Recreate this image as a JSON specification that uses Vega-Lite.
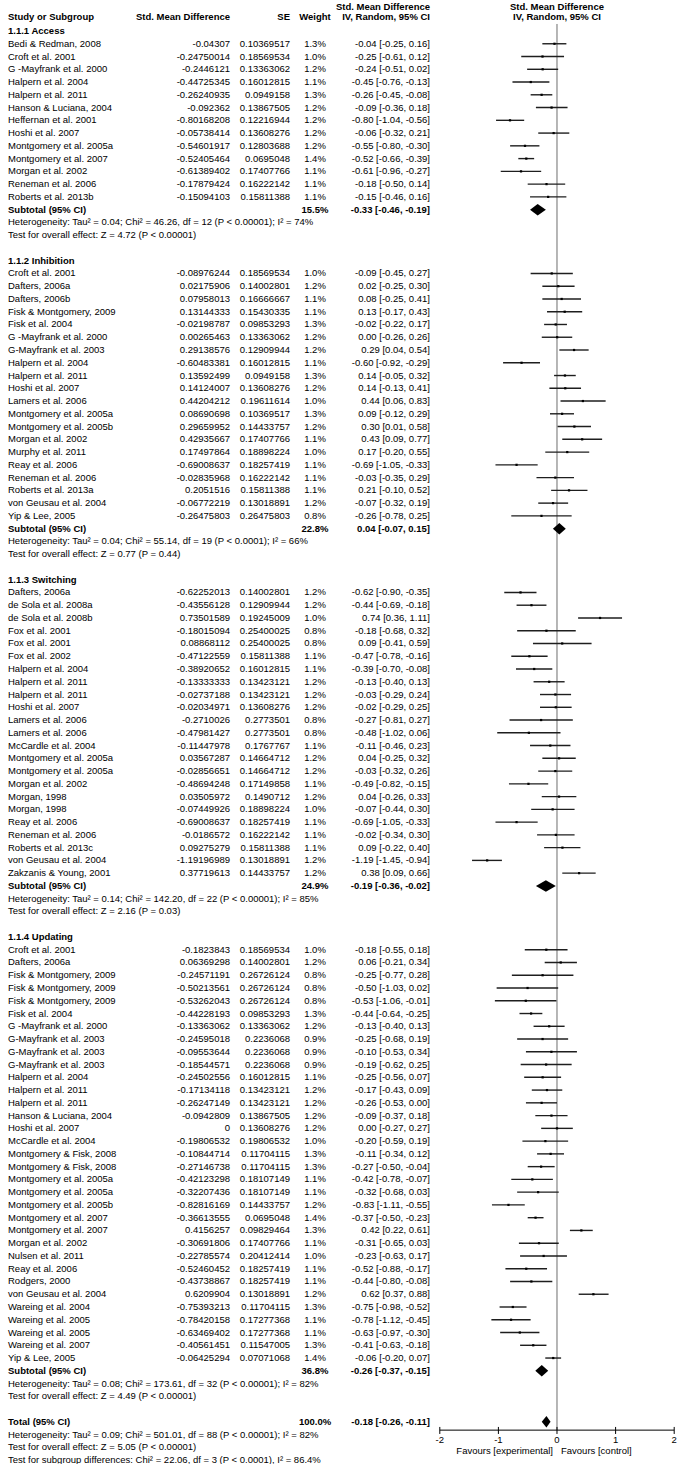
{
  "$schema": "https://vega.github.io/schema/vega-lite/v6.json",
  "padding": {"left": 8, "top": 0, "right": 0, "bottom": 0},
  "background": "white",
  "bounds": "flush",
  "spacing": 0,
  "config": {
    "view": {"stroke": null},
    "text": {"font": "Liberation Sans, Arial, sans-serif", "fontSize": 9.5, "color": "#000"}
  },
  "resolve": {"scale": {"x": "independent", "y": "shared"}},
  "datasets": {
    "rows": [
      {"row":0,"kind":"group","label":"1.1.1 Access"},
      {"row":1,"kind":"study","label":"Bedi & Redman, 2008","smd":"-0.04307","se":"0.10369517","weight":"1.3%","ci":"-0.04 [-0.25, 0.16]","est":-0.04307,"lo":-0.25,"hi":0.16},
      {"row":2,"kind":"study","label":"Croft et al. 2001","smd":"-0.24750014","se":"0.18569534","weight":"1.0%","ci":"-0.25 [-0.61, 0.12]","est":-0.2475,"lo":-0.61,"hi":0.12},
      {"row":3,"kind":"study","label":"G -Mayfrank et al. 2000","smd":"-0.2446121","se":"0.13363062","weight":"1.2%","ci":"-0.24 [-0.51, 0.02]","est":-0.2446,"lo":-0.51,"hi":0.02},
      {"row":4,"kind":"study","label":"Halpern et al. 2004","smd":"-0.44725345","se":"0.16012815","weight":"1.1%","ci":"-0.45 [-0.76, -0.13]","est":-0.4473,"lo":-0.76,"hi":-0.13},
      {"row":5,"kind":"study","label":"Halpern et al. 2011","smd":"-0.26240935","se":"0.0949158","weight":"1.3%","ci":"-0.26 [-0.45, -0.08]","est":-0.2624,"lo":-0.45,"hi":-0.08},
      {"row":6,"kind":"study","label":"Hanson & Luciana, 2004","smd":"-0.092362","se":"0.13867505","weight":"1.2%","ci":"-0.09 [-0.36, 0.18]","est":-0.0924,"lo":-0.36,"hi":0.18},
      {"row":7,"kind":"study","label":"Heffernan et al. 2001","smd":"-0.80168208","se":"0.12216944","weight":"1.2%","ci":"-0.80 [-1.04, -0.56]","est":-0.8017,"lo":-1.04,"hi":-0.56},
      {"row":8,"kind":"study","label":"Hoshi et al. 2007","smd":"-0.05738414","se":"0.13608276","weight":"1.2%","ci":"-0.06 [-0.32, 0.21]","est":-0.0574,"lo":-0.32,"hi":0.21},
      {"row":9,"kind":"study","label":"Montgomery et al. 2005a","smd":"-0.54601917","se":"0.12803688","weight":"1.2%","ci":"-0.55 [-0.80, -0.30]","est":-0.546,"lo":-0.8,"hi":-0.3},
      {"row":10,"kind":"study","label":"Montgomery et al. 2007","smd":"-0.52405464","se":"0.0695048","weight":"1.4%","ci":"-0.52 [-0.66, -0.39]","est":-0.5241,"lo":-0.66,"hi":-0.39},
      {"row":11,"kind":"study","label":"Morgan et al. 2002","smd":"-0.61389402","se":"0.17407766","weight":"1.1%","ci":"-0.61 [-0.96, -0.27]","est":-0.6139,"lo":-0.96,"hi":-0.27},
      {"row":12,"kind":"study","label":"Reneman et al. 2006","smd":"-0.17879424","se":"0.16222142","weight":"1.1%","ci":"-0.18 [-0.50, 0.14]","est":-0.1788,"lo":-0.5,"hi":0.14},
      {"row":13,"kind":"study","label":"Roberts et al. 2013b","smd":"-0.15094103","se":"0.15811388","weight":"1.1%","ci":"-0.15 [-0.46, 0.16]","est":-0.1509,"lo":-0.46,"hi":0.16},
      {"row":14,"kind":"subtotal","label":"Subtotal (95% CI)","weight":"15.5%","ci":"-0.33 [-0.46, -0.19]","est":-0.33,"lo":-0.46,"hi":-0.19},
      {"row":15,"kind":"het","label":"Heterogeneity: Tau² = 0.04; Chi² = 46.26, df = 12 (P < 0.00001); I² = 74%"},
      {"row":16,"kind":"het","label":"Test for overall effect: Z = 4.72 (P < 0.00001)"},
      {"row":18,"kind":"group","label":"1.1.2 Inhibition"},
      {"row":19,"kind":"study","label":"Croft et al. 2001","smd":"-0.08976244","se":"0.18569534","weight":"1.0%","ci":"-0.09 [-0.45, 0.27]","est":-0.0898,"lo":-0.45,"hi":0.27},
      {"row":20,"kind":"study","label":"Dafters, 2006a","smd":"0.02175906","se":"0.14002801","weight":"1.2%","ci":"0.02 [-0.25, 0.30]","est":0.0218,"lo":-0.25,"hi":0.3},
      {"row":21,"kind":"study","label":"Dafters, 2006b","smd":"0.07958013","se":"0.16666667","weight":"1.1%","ci":"0.08 [-0.25, 0.41]","est":0.0796,"lo":-0.25,"hi":0.41},
      {"row":22,"kind":"study","label":"Fisk & Montgomery, 2009","smd":"0.13144333","se":"0.15430335","weight":"1.1%","ci":"0.13 [-0.17, 0.43]","est":0.1314,"lo":-0.17,"hi":0.43},
      {"row":23,"kind":"study","label":"Fisk et al. 2004","smd":"-0.02198787","se":"0.09853293","weight":"1.3%","ci":"-0.02 [-0.22, 0.17]","est":-0.022,"lo":-0.22,"hi":0.17},
      {"row":24,"kind":"study","label":"G -Mayfrank et al. 2000","smd":"0.00265463","se":"0.13363062","weight":"1.2%","ci":"0.00 [-0.26, 0.26]","est":0.0027,"lo":-0.26,"hi":0.26},
      {"row":25,"kind":"study","label":"G-Mayfrank et al. 2003","smd":"0.29138576","se":"0.12909944","weight":"1.2%","ci":"0.29 [0.04, 0.54]","est":0.2914,"lo":0.04,"hi":0.54},
      {"row":26,"kind":"study","label":"Halpern et al. 2004","smd":"-0.60483381","se":"0.16012815","weight":"1.1%","ci":"-0.60 [-0.92, -0.29]","est":-0.6048,"lo":-0.92,"hi":-0.29},
      {"row":27,"kind":"study","label":"Halpern et al. 2011","smd":"0.13592499","se":"0.0949158","weight":"1.3%","ci":"0.14 [-0.05, 0.32]","est":0.1359,"lo":-0.05,"hi":0.32},
      {"row":28,"kind":"study","label":"Hoshi et al. 2007","smd":"0.14124007","se":"0.13608276","weight":"1.2%","ci":"0.14 [-0.13, 0.41]","est":0.1412,"lo":-0.13,"hi":0.41},
      {"row":29,"kind":"study","label":"Lamers et al. 2006","smd":"0.44204212","se":"0.19611614","weight":"1.0%","ci":"0.44 [0.06, 0.83]","est":0.442,"lo":0.06,"hi":0.83},
      {"row":30,"kind":"study","label":"Montgomery et al. 2005a","smd":"0.08690698","se":"0.10369517","weight":"1.3%","ci":"0.09 [-0.12, 0.29]","est":0.0869,"lo":-0.12,"hi":0.29},
      {"row":31,"kind":"study","label":"Montgomery et al. 2005b","smd":"0.29659952","se":"0.14433757","weight":"1.2%","ci":"0.30 [0.01, 0.58]","est":0.2966,"lo":0.01,"hi":0.58},
      {"row":32,"kind":"study","label":"Morgan et al. 2002","smd":"0.42935667","se":"0.17407766","weight":"1.1%","ci":"0.43 [0.09, 0.77]","est":0.4294,"lo":0.09,"hi":0.77},
      {"row":33,"kind":"study","label":"Murphy et al. 2011","smd":"0.17497864","se":"0.18898224","weight":"1.0%","ci":"0.17 [-0.20, 0.55]","est":0.175,"lo":-0.2,"hi":0.55},
      {"row":34,"kind":"study","label":"Reay et al. 2006","smd":"-0.69008637","se":"0.18257419","weight":"1.1%","ci":"-0.69 [-1.05, -0.33]","est":-0.6901,"lo":-1.05,"hi":-0.33},
      {"row":35,"kind":"study","label":"Reneman et al. 2006","smd":"-0.02835968","se":"0.16222142","weight":"1.1%","ci":"-0.03 [-0.35, 0.29]","est":-0.0284,"lo":-0.35,"hi":0.29},
      {"row":36,"kind":"study","label":"Roberts et al. 2013a","smd":"0.2051516","se":"0.15811388","weight":"1.1%","ci":"0.21 [-0.10, 0.52]","est":0.2052,"lo":-0.1,"hi":0.52},
      {"row":37,"kind":"study","label":"von Geusau et al. 2004","smd":"-0.06772219","se":"0.13018891","weight":"1.2%","ci":"-0.07 [-0.32, 0.19]","est":-0.0677,"lo":-0.32,"hi":0.19},
      {"row":38,"kind":"study","label":"Yip & Lee, 2005","smd":"-0.26475803","se":"0.26475803","weight":"0.8%","ci":"-0.26 [-0.78, 0.25]","est":-0.2648,"lo":-0.78,"hi":0.25},
      {"row":39,"kind":"subtotal","label":"Subtotal (95% CI)","weight":"22.8%","ci":"0.04 [-0.07, 0.15]","est":0.04,"lo":-0.07,"hi":0.15},
      {"row":40,"kind":"het","label":"Heterogeneity: Tau² = 0.04; Chi² = 55.14, df = 19 (P < 0.0001); I² = 66%"},
      {"row":41,"kind":"het","label":"Test for overall effect: Z = 0.77 (P = 0.44)"},
      {"row":43,"kind":"group","label":"1.1.3 Switching"},
      {"row":44,"kind":"study","label":"Dafters, 2006a","smd":"-0.62252013","se":"0.14002801","weight":"1.2%","ci":"-0.62 [-0.90, -0.35]","est":-0.6225,"lo":-0.9,"hi":-0.35},
      {"row":45,"kind":"study","label":"de Sola et al. 2008a","smd":"-0.43556128","se":"0.12909944","weight":"1.2%","ci":"-0.44 [-0.69, -0.18]","est":-0.4356,"lo":-0.69,"hi":-0.18},
      {"row":46,"kind":"study","label":"de Sola et al. 2008b","smd":"0.73501589","se":"0.19245009","weight":"1.0%","ci":"0.74 [0.36, 1.11]","est":0.735,"lo":0.36,"hi":1.11},
      {"row":47,"kind":"study","label":"Fox et al. 2001","smd":"-0.18015094","se":"0.25400025","weight":"0.8%","ci":"-0.18 [-0.68, 0.32]","est":-0.1802,"lo":-0.68,"hi":0.32},
      {"row":48,"kind":"study","label":"Fox et al. 2001","smd":"0.08868112","se":"0.25400025","weight":"0.8%","ci":"0.09 [-0.41, 0.59]","est":0.0887,"lo":-0.41,"hi":0.59},
      {"row":49,"kind":"study","label":"Fox et al. 2002","smd":"-0.47122559","se":"0.15811388","weight":"1.1%","ci":"-0.47 [-0.78, -0.16]","est":-0.4712,"lo":-0.78,"hi":-0.16},
      {"row":50,"kind":"study","label":"Halpern et al. 2004","smd":"-0.38920652","se":"0.16012815","weight":"1.1%","ci":"-0.39 [-0.70, -0.08]","est":-0.3892,"lo":-0.7,"hi":-0.08},
      {"row":51,"kind":"study","label":"Halpern et al. 2011","smd":"-0.13333333","se":"0.13423121","weight":"1.2%","ci":"-0.13 [-0.40, 0.13]","est":-0.1333,"lo":-0.4,"hi":0.13},
      {"row":52,"kind":"study","label":"Halpern et al. 2011","smd":"-0.02737188","se":"0.13423121","weight":"1.2%","ci":"-0.03 [-0.29, 0.24]","est":-0.0274,"lo":-0.29,"hi":0.24},
      {"row":53,"kind":"study","label":"Hoshi et al. 2007","smd":"-0.02034971","se":"0.13608276","weight":"1.2%","ci":"-0.02 [-0.29, 0.25]","est":-0.0203,"lo":-0.29,"hi":0.25},
      {"row":54,"kind":"study","label":"Lamers et al. 2006","smd":"-0.2710026","se":"0.2773501","weight":"0.8%","ci":"-0.27 [-0.81, 0.27]","est":-0.271,"lo":-0.81,"hi":0.27},
      {"row":55,"kind":"study","label":"Lamers et al. 2006","smd":"-0.47981427","se":"0.2773501","weight":"0.8%","ci":"-0.48 [-1.02, 0.06]","est":-0.4798,"lo":-1.02,"hi":0.06},
      {"row":56,"kind":"study","label":"McCardle et al. 2004","smd":"-0.11447978","se":"0.1767767","weight":"1.1%","ci":"-0.11 [-0.46, 0.23]","est":-0.1145,"lo":-0.46,"hi":0.23},
      {"row":57,"kind":"study","label":"Montgomery et al. 2005a","smd":"0.03567287","se":"0.14664712","weight":"1.2%","ci":"0.04 [-0.25, 0.32]","est":0.0357,"lo":-0.25,"hi":0.32},
      {"row":58,"kind":"study","label":"Montgomery et al. 2005a","smd":"-0.02856651","se":"0.14664712","weight":"1.2%","ci":"-0.03 [-0.32, 0.26]","est":-0.0286,"lo":-0.32,"hi":0.26},
      {"row":59,"kind":"study","label":"Morgan et al. 2002","smd":"-0.48694248","se":"0.17149858","weight":"1.1%","ci":"-0.49 [-0.82, -0.15]","est":-0.4869,"lo":-0.82,"hi":-0.15},
      {"row":60,"kind":"study","label":"Morgan, 1998","smd":"0.03505972","se":"0.1490712","weight":"1.2%","ci":"0.04 [-0.26, 0.33]","est":0.0351,"lo":-0.26,"hi":0.33},
      {"row":61,"kind":"study","label":"Morgan, 1998","smd":"-0.07449926","se":"0.18898224","weight":"1.0%","ci":"-0.07 [-0.44, 0.30]","est":-0.0745,"lo":-0.44,"hi":0.3},
      {"row":62,"kind":"study","label":"Reay et al. 2006","smd":"-0.69008637","se":"0.18257419","weight":"1.1%","ci":"-0.69 [-1.05, -0.33]","est":-0.6901,"lo":-1.05,"hi":-0.33},
      {"row":63,"kind":"study","label":"Reneman et al. 2006","smd":"-0.0186572","se":"0.16222142","weight":"1.1%","ci":"-0.02 [-0.34, 0.30]","est":-0.0187,"lo":-0.34,"hi":0.3},
      {"row":64,"kind":"study","label":"Roberts et al. 2013c","smd":"0.09275279","se":"0.15811388","weight":"1.1%","ci":"0.09 [-0.22, 0.40]","est":0.0928,"lo":-0.22,"hi":0.4},
      {"row":65,"kind":"study","label":"von Geusau et al. 2004","smd":"-1.19196989","se":"0.13018891","weight":"1.2%","ci":"-1.19 [-1.45, -0.94]","est":-1.192,"lo":-1.45,"hi":-0.94},
      {"row":66,"kind":"study","label":"Zakzanis & Young, 2001","smd":"0.37719613","se":"0.14433757","weight":"1.2%","ci":"0.38 [0.09, 0.66]","est":0.3772,"lo":0.09,"hi":0.66},
      {"row":67,"kind":"subtotal","label":"Subtotal (95% CI)","weight":"24.9%","ci":"-0.19 [-0.36, -0.02]","est":-0.19,"lo":-0.36,"hi":-0.02},
      {"row":68,"kind":"het","label":"Heterogeneity: Tau² = 0.14; Chi² = 142.20, df = 22 (P < 0.00001); I² = 85%"},
      {"row":69,"kind":"het","label":"Test for overall effect: Z = 2.16 (P = 0.03)"},
      {"row":71,"kind":"group","label":"1.1.4 Updating"},
      {"row":72,"kind":"study","label":"Croft et al. 2001","smd":"-0.1823843","se":"0.18569534","weight":"1.0%","ci":"-0.18 [-0.55, 0.18]","est":-0.1824,"lo":-0.55,"hi":0.18},
      {"row":73,"kind":"study","label":"Dafters, 2006a","smd":"0.06369298","se":"0.14002801","weight":"1.2%","ci":"0.06 [-0.21, 0.34]","est":0.0637,"lo":-0.21,"hi":0.34},
      {"row":74,"kind":"study","label":"Fisk & Montgomery, 2009","smd":"-0.24571191","se":"0.26726124","weight":"0.8%","ci":"-0.25 [-0.77, 0.28]","est":-0.2457,"lo":-0.77,"hi":0.28},
      {"row":75,"kind":"study","label":"Fisk & Montgomery, 2009","smd":"-0.50213561","se":"0.26726124","weight":"0.8%","ci":"-0.50 [-1.03, 0.02]","est":-0.5021,"lo":-1.03,"hi":0.02},
      {"row":76,"kind":"study","label":"Fisk & Montgomery, 2009","smd":"-0.53262043","se":"0.26726124","weight":"0.8%","ci":"-0.53 [-1.06, -0.01]","est":-0.5326,"lo":-1.06,"hi":-0.01},
      {"row":77,"kind":"study","label":"Fisk et al. 2004","smd":"-0.44228193","se":"0.09853293","weight":"1.3%","ci":"-0.44 [-0.64, -0.25]","est":-0.4423,"lo":-0.64,"hi":-0.25},
      {"row":78,"kind":"study","label":"G -Mayfrank et al. 2000","smd":"-0.13363062","se":"0.13363062","weight":"1.2%","ci":"-0.13 [-0.40, 0.13]","est":-0.1336,"lo":-0.4,"hi":0.13},
      {"row":79,"kind":"study","label":"G-Mayfrank et al. 2003","smd":"-0.24595018","se":"0.2236068","weight":"0.9%","ci":"-0.25 [-0.68, 0.19]","est":-0.246,"lo":-0.68,"hi":0.19},
      {"row":80,"kind":"study","label":"G-Mayfrank et al. 2003","smd":"-0.09553644","se":"0.2236068","weight":"0.9%","ci":"-0.10 [-0.53, 0.34]","est":-0.0955,"lo":-0.53,"hi":0.34},
      {"row":81,"kind":"study","label":"G-Mayfrank et al. 2003","smd":"-0.18544571","se":"0.2236068","weight":"0.9%","ci":"-0.19 [-0.62, 0.25]","est":-0.1854,"lo":-0.62,"hi":0.25},
      {"row":82,"kind":"study","label":"Halpern et al. 2004","smd":"-0.24502556","se":"0.16012815","weight":"1.1%","ci":"-0.25 [-0.56, 0.07]","est":-0.245,"lo":-0.56,"hi":0.07},
      {"row":83,"kind":"study","label":"Halpern et al. 2011","smd":"-0.17134118","se":"0.13423121","weight":"1.2%","ci":"-0.17 [-0.43, 0.09]","est":-0.1713,"lo":-0.43,"hi":0.09},
      {"row":84,"kind":"study","label":"Halpern et al. 2011","smd":"-0.26247149","se":"0.13423121","weight":"1.2%","ci":"-0.26 [-0.53, 0.00]","est":-0.2625,"lo":-0.53,"hi":0.0},
      {"row":85,"kind":"study","label":"Hanson & Luciana, 2004","smd":"-0.0942809","se":"0.13867505","weight":"1.2%","ci":"-0.09 [-0.37, 0.18]","est":-0.0943,"lo":-0.37,"hi":0.18},
      {"row":86,"kind":"study","label":"Hoshi et al. 2007","smd":"0","se":"0.13608276","weight":"1.2%","ci":"0.00 [-0.27, 0.27]","est":0,"lo":-0.27,"hi":0.27},
      {"row":87,"kind":"study","label":"McCardle et al. 2004","smd":"-0.19806532","se":"0.19806532","weight":"1.0%","ci":"-0.20 [-0.59, 0.19]","est":-0.1981,"lo":-0.59,"hi":0.19},
      {"row":88,"kind":"study","label":"Montgomery & Fisk, 2008","smd":"-0.10844714","se":"0.11704115","weight":"1.3%","ci":"-0.11 [-0.34, 0.12]","est":-0.1084,"lo":-0.34,"hi":0.12},
      {"row":89,"kind":"study","label":"Montgomery & Fisk, 2008","smd":"-0.27146738","se":"0.11704115","weight":"1.3%","ci":"-0.27 [-0.50, -0.04]","est":-0.2715,"lo":-0.5,"hi":-0.04},
      {"row":90,"kind":"study","label":"Montgomery et al. 2005a","smd":"-0.42123298","se":"0.18107149","weight":"1.1%","ci":"-0.42 [-0.78, -0.07]","est":-0.4212,"lo":-0.78,"hi":-0.07},
      {"row":91,"kind":"study","label":"Montgomery et al. 2005a","smd":"-0.32207436","se":"0.18107149","weight":"1.1%","ci":"-0.32 [-0.68, 0.03]","est":-0.3221,"lo":-0.68,"hi":0.03},
      {"row":92,"kind":"study","label":"Montgomery et al. 2005b","smd":"-0.82816169","se":"0.14433757","weight":"1.2%","ci":"-0.83 [-1.11, -0.55]","est":-0.8282,"lo":-1.11,"hi":-0.55},
      {"row":93,"kind":"study","label":"Montgomery et al. 2007","smd":"-0.36613555","se":"0.0695048","weight":"1.4%","ci":"-0.37 [-0.50, -0.23]","est":-0.3661,"lo":-0.5,"hi":-0.23},
      {"row":94,"kind":"study","label":"Montgomery et al. 2007","smd":"0.4156257","se":"0.09829464","weight":"1.3%","ci":"0.42 [0.22, 0.61]","est":0.4156,"lo":0.22,"hi":0.61},
      {"row":95,"kind":"study","label":"Morgan et al. 2002","smd":"-0.30691806","se":"0.17407766","weight":"1.1%","ci":"-0.31 [-0.65, 0.03]","est":-0.3069,"lo":-0.65,"hi":0.03},
      {"row":96,"kind":"study","label":"Nulsen et al. 2011","smd":"-0.22785574","se":"0.20412414","weight":"1.0%","ci":"-0.23 [-0.63, 0.17]","est":-0.2279,"lo":-0.63,"hi":0.17},
      {"row":97,"kind":"study","label":"Reay et al. 2006","smd":"-0.52460452","se":"0.18257419","weight":"1.1%","ci":"-0.52 [-0.88, -0.17]","est":-0.5246,"lo":-0.88,"hi":-0.17},
      {"row":98,"kind":"study","label":"Rodgers, 2000","smd":"-0.43738867","se":"0.18257419","weight":"1.1%","ci":"-0.44 [-0.80, -0.08]","est":-0.4374,"lo":-0.8,"hi":-0.08},
      {"row":99,"kind":"study","label":"von Geusau et al. 2004","smd":"0.6209904","se":"0.13018891","weight":"1.2%","ci":"0.62 [0.37, 0.88]","est":0.621,"lo":0.37,"hi":0.88},
      {"row":100,"kind":"study","label":"Wareing et al. 2004","smd":"-0.75393213","se":"0.11704115","weight":"1.3%","ci":"-0.75 [-0.98, -0.52]","est":-0.7539,"lo":-0.98,"hi":-0.52},
      {"row":101,"kind":"study","label":"Wareing et al. 2005","smd":"-0.78420158","se":"0.17277368","weight":"1.1%","ci":"-0.78 [-1.12, -0.45]","est":-0.7842,"lo":-1.12,"hi":-0.45},
      {"row":102,"kind":"study","label":"Wareing et al. 2005","smd":"-0.63469402","se":"0.17277368","weight":"1.1%","ci":"-0.63 [-0.97, -0.30]","est":-0.6347,"lo":-0.97,"hi":-0.3},
      {"row":103,"kind":"study","label":"Wareing et al. 2007","smd":"-0.40561451","se":"0.11547005","weight":"1.3%","ci":"-0.41 [-0.63, -0.18]","est":-0.4056,"lo":-0.63,"hi":-0.18},
      {"row":104,"kind":"study","label":"Yip & Lee, 2005","smd":"-0.06425294","se":"0.07071068","weight":"1.4%","ci":"-0.06 [-0.20, 0.07]","est":-0.0643,"lo":-0.2,"hi":0.07},
      {"row":105,"kind":"subtotal","label":"Subtotal (95% CI)","weight":"36.8%","ci":"-0.26 [-0.37, -0.15]","est":-0.26,"lo":-0.37,"hi":-0.15},
      {"row":106,"kind":"het","label":"Heterogeneity: Tau² = 0.08; Chi² = 173.61, df = 32 (P < 0.00001); I² = 82%"},
      {"row":107,"kind":"het","label":"Test for overall effect: Z = 4.49 (P < 0.00001)"},
      {"row":109,"kind":"total","label":"Total (95% CI)","weight":"100.0%","ci":"-0.18 [-0.26, -0.11]","est":-0.18,"lo":-0.26,"hi":-0.11},
      {"row":110,"kind":"het","label":"Heterogeneity: Tau² = 0.09; Chi² = 501.01, df = 88 (P < 0.00001); I² = 82%"},
      {"row":111,"kind":"het","label":"Test for overall effect: Z = 5.05 (P < 0.00001)"},
      {"row":112,"kind":"het","label":"Test for subgroup differences: Chi² = 22.06, df = 3 (P < 0.0001), I² = 86.4%"}
    ],
    "ticks": [{"v":-2,"lab":"-2"},{"v":-1,"lab":"-1"},{"v":0,"lab":"0"},{"v":1,"lab":"1"},{"v":2,"lab":"2"}]
  },
  "data": {"name": "rows"},
  "hconcat": [
    {
      "width": 222, "height": 1464,
      "layer": [
        {"transform": [{"filter": "datum.kind === 'study' || datum.kind === 'het'"}],
         "mark": {"type": "text", "align": "left"},
         "encoding": {"x": {"value": 0}, "y": {"field": "row", "type": "quantitative", "scale": {"domain": [-2.4295, 112.304], "reverse": true, "nice": false, "zero": false}, "axis": null}, "text": {"field": "label"}}},
        {"transform": [{"filter": "datum.kind === 'group' || datum.kind === 'subtotal' || datum.kind === 'total'"}],
         "mark": {"type": "text", "align": "left", "fontWeight": "bold"},
         "encoding": {"x": {"value": 0}, "y": {"field": "row", "type": "quantitative", "axis": null}, "text": {"field": "label"}}},
        {"transform": [{"filter": "datum.kind === 'study'"}],
         "mark": {"type": "text", "align": "right"},
         "encoding": {"x": {"value": "width"}, "y": {"field": "row", "type": "quantitative", "axis": null}, "text": {"field": "smd"}}},
        {"data": {"values": [{"t": "Study or Subgroup"}]},
         "mark": {"type": "text", "align": "left", "fontWeight": "bold"},
         "encoding": {"x": {"value": 0}, "y": {"datum": -1.06, "type": "quantitative", "axis": null}, "text": {"field": "t"}}},
        {"data": {"values": [{"t": "Std. Mean Difference"}]},
         "mark": {"type": "text", "align": "right", "fontWeight": "bold"},
         "encoding": {"x": {"value": "width"}, "y": {"datum": -1.06, "type": "quantitative", "axis": null}, "text": {"field": "t"}}}
      ]
    },
    {
      "width": 60, "height": 1464,
      "layer": [
        {"transform": [{"filter": "datum.kind === 'study'"}],
         "mark": {"type": "text", "align": "right"},
         "encoding": {"x": {"value": "width"}, "y": {"field": "row", "type": "quantitative", "scale": {"domain": [-2.4295, 112.304], "reverse": true, "nice": false, "zero": false}, "axis": null}, "text": {"field": "se"}}},
        {"data": {"values": [{"t": "SE"}]},
         "mark": {"type": "text", "align": "right", "fontWeight": "bold"},
         "encoding": {"x": {"value": "width"}, "y": {"datum": -1.06, "type": "quantitative", "axis": null}, "text": {"field": "t"}}}
      ]
    },
    {
      "width": 25, "height": 1464,
      "layer": [
        {"transform": [{"filter": "datum.kind === 'study'"}],
         "mark": {"type": "text", "align": "center"},
         "encoding": {"x": {"value": "width"}, "y": {"field": "row", "type": "quantitative", "scale": {"domain": [-2.4295, 112.304], "reverse": true, "nice": false, "zero": false}, "axis": null}, "text": {"field": "weight"}}},
        {"transform": [{"filter": "datum.kind === 'subtotal' || datum.kind === 'total'"}],
         "mark": {"type": "text", "align": "center", "fontWeight": "bold"},
         "encoding": {"x": {"value": "width"}, "y": {"field": "row", "type": "quantitative", "axis": null}, "text": {"field": "weight"}}},
        {"data": {"values": [{"t": "Weight"}]},
         "mark": {"type": "text", "align": "center", "fontWeight": "bold"},
         "encoding": {"x": {"value": "width"}, "y": {"datum": -1.06, "type": "quantitative", "axis": null}, "text": {"field": "t"}}}
      ]
    },
    {
      "width": 115, "height": 1464,
      "layer": [
        {"transform": [{"filter": "datum.kind === 'study'"}],
         "mark": {"type": "text", "align": "right"},
         "encoding": {"x": {"value": "width"}, "y": {"field": "row", "type": "quantitative", "scale": {"domain": [-2.4295, 112.304], "reverse": true, "nice": false, "zero": false}, "axis": null}, "text": {"field": "ci"}}},
        {"transform": [{"filter": "datum.kind === 'subtotal' || datum.kind === 'total'"}],
         "mark": {"type": "text", "align": "right", "fontWeight": "bold"},
         "encoding": {"x": {"value": "width"}, "y": {"field": "row", "type": "quantitative", "axis": null}, "text": {"field": "ci"}}},
        {"data": {"values": [{"t": "Std. Mean Difference"}]},
         "mark": {"type": "text", "align": "right", "fontWeight": "bold"},
         "encoding": {"x": {"value": "width"}, "y": {"datum": -1.92, "type": "quantitative", "axis": null}, "text": {"field": "t"}}},
        {"data": {"values": [{"t": "IV, Random, 95% CI"}]},
         "mark": {"type": "text", "align": "right", "fontWeight": "bold"},
         "encoding": {"x": {"value": "width"}, "y": {"datum": -1.06, "type": "quantitative", "axis": null}, "text": {"field": "t"}}}
      ]
    },
    {
      "width": 258, "height": 1464,
      "layer": [
        {"data": {"values": [{}]},
         "mark": {"type": "rule", "color": "#6e6e6e", "strokeWidth": 1},
         "encoding": {"x": {"datum": 0, "type": "quantitative", "scale": {"domain": [-2.1672, 2.2355], "nice": false, "zero": false}, "axis": null}, "y": {"datum": -0.55, "type": "quantitative", "scale": {"domain": [-2.4295, 112.304], "reverse": true, "nice": false, "zero": false}, "axis": null}, "y2": {"datum": 109.65}}},
        {"transform": [{"filter": "datum.kind === 'study'"}],
         "mark": {"type": "rule", "color": "#1e1e1e", "strokeWidth": 1.4},
         "encoding": {"x": {"field": "lo", "type": "quantitative", "axis": null}, "x2": {"field": "hi"}, "y": {"field": "row", "type": "quantitative", "axis": null}}},
        {"transform": [{"filter": "datum.kind === 'study'"}],
         "mark": {"type": "square", "filled": true, "color": "#000", "size": 5, "opacity": 1},
         "encoding": {"x": {"field": "est", "type": "quantitative", "axis": null}, "y": {"field": "row", "type": "quantitative", "axis": null}}},
        {"transform": [{"filter": "datum.kind === 'subtotal' || datum.kind === 'total'"}],
         "mark": {"type": "point", "filled": true, "color": "#000", "size": 100, "opacity": 1, "strokeWidth": 0},
         "encoding": {"x": {"field": "est", "type": "quantitative", "axis": null}, "y": {"field": "row", "type": "quantitative", "axis": null},
           "shape": {"field": "row", "type": "nominal", "legend": null, "scale": {"domain": [14, 39, 67, 105, 109], "range": ["M-1.52,0L0,-1.15L1.64,0L0,1.15Z", "M-1.29,0L0,-1.15L1.29,0L0,1.15Z", "M-1.99,0L0,-1.15L1.99,0L0,1.15Z", "M-1.29,0L0,-1.15L1.29,0L0,1.15Z", "M-0.94,0L0,-1.15L0.82,0L0,1.15Z"]}}}},
        {"data": {"values": [{}]},
         "mark": {"type": "rule", "color": "#000", "strokeWidth": 1},
         "encoding": {"x": {"datum": -2, "type": "quantitative", "axis": null}, "x2": {"datum": 2}, "y": {"datum": 109.65, "type": "quantitative", "axis": null}}},
        {"data": {"name": "ticks"},
         "mark": {"type": "rule", "color": "#000", "strokeWidth": 1},
         "encoding": {"x": {"field": "v", "type": "quantitative", "axis": null}, "y": {"datum": 109.4, "type": "quantitative", "axis": null}, "y2": {"datum": 109.95}}},
        {"data": {"name": "ticks"},
         "mark": {"type": "text", "align": "center"},
         "encoding": {"x": {"field": "v", "type": "quantitative", "axis": null}, "y": {"datum": 110.4, "type": "quantitative", "axis": null}, "text": {"field": "lab"}}},
        {"data": {"values": [{"t": "Favours [experimental]"}]},
         "mark": {"type": "text", "align": "right", "dx": -4},
         "encoding": {"x": {"datum": 0, "type": "quantitative", "axis": null}, "y": {"datum": 111.25, "type": "quantitative", "axis": null}, "text": {"field": "t"}}},
        {"data": {"values": [{"t": "Favours [control]"}]},
         "mark": {"type": "text", "align": "left", "dx": 4},
         "encoding": {"x": {"datum": 0, "type": "quantitative", "axis": null}, "y": {"datum": 111.25, "type": "quantitative", "axis": null}, "text": {"field": "t"}}},
        {"data": {"values": [{"t": "Std. Mean Difference"}]},
         "mark": {"type": "text", "align": "center", "fontWeight": "bold"},
         "encoding": {"x": {"datum": 0, "type": "quantitative", "axis": null}, "y": {"datum": -1.92, "type": "quantitative", "axis": null}, "text": {"field": "t"}}},
        {"data": {"values": [{"t": "IV, Random, 95% CI"}]},
         "mark": {"type": "text", "align": "center", "fontWeight": "bold"},
         "encoding": {"x": {"datum": 0, "type": "quantitative", "axis": null}, "y": {"datum": -1.06, "type": "quantitative", "axis": null}, "text": {"field": "t"}}}
      ]
    }
  ]
}
